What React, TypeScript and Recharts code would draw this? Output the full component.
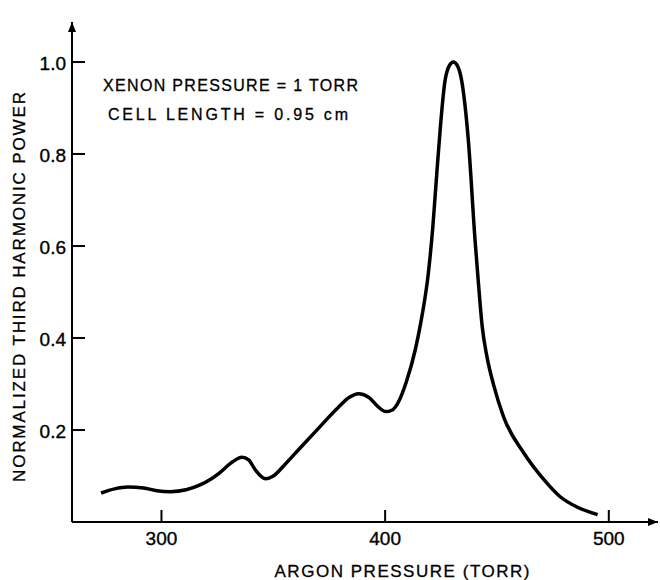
import { LineChart, Line, XAxis, YAxis } from 'recharts'

// argon pressure (torr)
const pressures = [
  273, 279, 285, 292, 298, 304, 311, 317, 322, 326, 331, 336, 339, 342, 346.5, 350, 355,
  362, 371, 379, 384, 388, 393, 397, 400.3, 403, 405.5, 409.5, 413.5, 416, 419.3, 421.3,
  423.1, 426.8, 428.7, 430.5, 432.3, 434.2, 437.2, 440.2, 441.7, 443.4, 445.5, 448.5, 453,
  462, 471, 478, 486, 495,
]

// normalized third harmonic power
const powers = [
  0.063, 0.072, 0.076, 0.074, 0.068, 0.066, 0.07, 0.08, 0.093, 0.107, 0.128, 0.141, 0.135,
  0.113, 0.094, 0.1, 0.124, 0.161, 0.208, 0.249, 0.271, 0.279, 0.27, 0.25, 0.24, 0.243,
  0.257, 0.305, 0.375, 0.435, 0.54, 0.64, 0.758, 0.96, 0.992, 1.0, 0.992, 0.96, 0.83, 0.613,
  0.52, 0.425, 0.36, 0.298, 0.228, 0.15, 0.092, 0.056, 0.032, 0.016,
]

const xTicks = [300, 400, 500]
const yTicks = [0.2, 0.4, 0.6, 0.8, 1.0]

const notes = ['XENON PRESSURE = 1 TORR', 'CELL LENGTH = 0.95 cm']
const xTitle = 'ARGON PRESSURE (TORR)'
const yTitle = 'NORMALIZED THIRD HARMONIC POWER'

const data = pressures.map((p, i) => ({ pressure: p, power: powers[i] }))

const FONT = '"Liberation Sans", Arial, sans-serif'

function XTick({ x, y, payload }: any) {
  return (
    <g>
      <line x1={x} y1={y} x2={x} y2={y - 12} stroke="#000" strokeWidth={2} />
      <text
        x={x}
        y={y + 23}
        textAnchor="middle"
        fontSize={19}
        fontFamily={FONT}
        fill="#000"
        stroke="#000"
        strokeWidth={0.35}
      >
        {payload.value}
      </text>
    </g>
  )
}

function YTick({ x, y, payload }: any) {
  return (
    <g>
      <line x1={x} y1={y} x2={x + 13} y2={y} stroke="#000" strokeWidth={2} />
      <text
        x={x - 6}
        y={y + 8}
        textAnchor="end"
        fontSize={19}
        fontFamily={FONT}
        fill="#000"
        stroke="#000"
        strokeWidth={0.35}
      >
        {Number(payload.value).toFixed(1)}
      </text>
    </g>
  )
}

export default function App() {
  return (
    <div style={{ position: 'absolute', left: 0, top: 0, width: 660, height: 580, background: '#fff' }}>
      <svg width={0} height={0} style={{ position: 'absolute' }}>
        <defs>
          <marker
            id="axisArrow"
            viewBox="0 0 10 8"
            refX={10}
            refY={4}
            markerWidth={10}
            markerHeight={8}
            markerUnits="userSpaceOnUse"
            orient="auto-start-reverse"
          >
            <path d="M0,0 L10,4 L0,8 z" fill="#000" />
          </marker>
        </defs>
      </svg>
      <LineChart width={660} height={580} data={data} margin={{ top: 22, right: 2, bottom: 0, left: 0 }}>
        <XAxis
          type="number"
          dataKey="pressure"
          domain={[260, 522]}
          ticks={xTicks}
          interval={0}
          height={58}
          axisLine={{ stroke: '#000', strokeWidth: 2, markerEnd: 'url(#axisArrow)' }}
          tickLine={false}
          tickSize={0}
          tickMargin={0}
          tick={(props: any) => <XTick {...props} />}
        />
        <YAxis
          type="number"
          domain={[0, 1.087]}
          ticks={yTicks}
          interval={0}
          width={72}
          axisLine={{ stroke: '#000', strokeWidth: 2, markerStart: 'url(#axisArrow)' }}
          tickLine={false}
          tickSize={0}
          tickMargin={0}
          tick={(props: any) => <YTick {...props} />}
        />
        <Line
          type="monotone"
          dataKey="power"
          stroke="#000"
          strokeWidth={3.5}
          dot={false}
          activeDot={false}
          isAnimationActive={false}
        />
      </LineChart>
      <svg
        width={660}
        height={580}
        style={{ position: 'absolute', left: 0, top: 0, pointerEvents: 'none' }}
        fontFamily={FONT}
        fill="#000"
        stroke="#000"
        strokeWidth={0.3}
      >
        <text x={103} y={91} fontSize={16} textLength={255} lengthAdjust="spacing">
          {notes[0]}
        </text>
        <text x={108} y={120} fontSize={16} textLength={240} lengthAdjust="spacing">
          {notes[1]}
        </text>
        <text x={402} y={577} fontSize={17} textAnchor="middle" textLength={255} lengthAdjust="spacing">
          {xTitle}
        </text>
        <text
          transform="translate(25,287) rotate(-90)"
          fontSize={17}
          textAnchor="middle"
          textLength={390}
          lengthAdjust="spacing"
        >
          {yTitle}
        </text>
      </svg>
    </div>
  )
}
